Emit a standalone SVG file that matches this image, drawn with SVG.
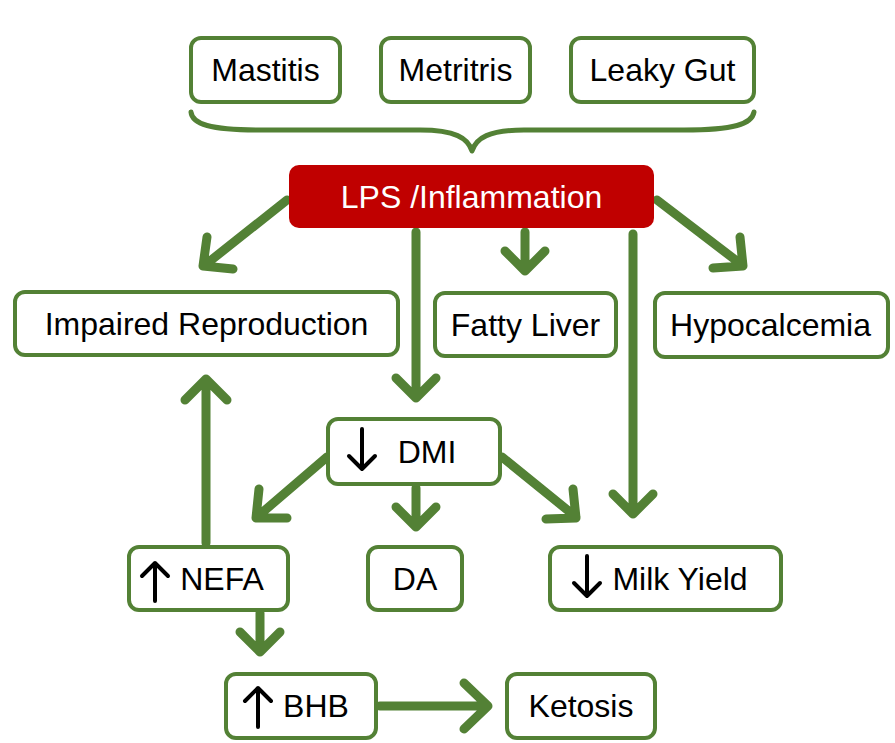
<svg xmlns="http://www.w3.org/2000/svg" width="895" height="743" viewBox="0 0 895 743">
<style>
.box{fill:#fff;stroke:#538135;stroke-width:4}
.t{font-family:"Liberation Sans",Arial,sans-serif;font-size:32px;fill:#000;text-anchor:middle}
.c{fill:none;stroke:#538135;stroke-width:9;stroke-linecap:round;stroke-linejoin:round}
.k{fill:none;stroke:#000;stroke-width:4;stroke-linecap:round;stroke-linejoin:round}
</style>
<rect width="895" height="743" fill="#fff"/>
<g id="connectors">
<path class="c" style="stroke-width:5" d="M191,112 C192,124 210,130 260,130 L420,130 C455,130 468,138 472,151 C476,138 489,130 524,130 L684,130 C734,130 752,124 754,112"/>
<path class="c" d="M287,200 L205,265 M207,237 L203,266 L233,269"/>
<path class="c" d="M416,232 L416,398 M396,378 L416,398 L436,378"/>
<path class="c" d="M525,232 L525,270 M505,251 L525,271 L545,251"/>
<path class="c" d="M633,234 L633,514 M613,494 L633,514 L653,494"/>
<path class="c" d="M657,200 L742,265 M740,237 L743,266 L713,268"/>
<path class="c" d="M206,543 L206,380 M185,400 L206,379 L227,400"/>
<path class="c" d="M327,457 L257,517 M259,489 L256,518 L287,518"/>
<path class="c" d="M416,488 L416,526 M396,507 L416,527 L436,507"/>
<path class="c" d="M502,457 L576,517 M573,489 L576,518 L546,519"/>
<path class="c" d="M260,613 L260,652 M240,632 L260,652 L280,632"/>
<path class="c" d="M380,706 L487,706 M464,683 L488,706 L464,729"/>
</g>
<g id="mastitis"><rect class="box" x="191" y="38" width="149" height="64" rx="10"/><text class="t" x="265.5" y="81">Mastitis</text></g>
<g id="metritris"><rect class="box" x="381" y="38" width="149" height="64" rx="10"/><text class="t" x="455.5" y="81">Metritris</text></g>
<g id="leaky-gut"><rect class="box" x="571" y="38" width="183" height="64" rx="10"/><text class="t" x="662.5" y="81">Leaky Gut</text></g>
<g id="lps"><rect x="289" y="165" width="365" height="63" rx="10" fill="#C00000"/><text class="t" x="471.5" y="208" style="fill:#fff">LPS /Inflammation</text></g>
<g id="impaired-reproduction"><rect class="box" x="15" y="292" width="383" height="63" rx="10"/><text class="t" x="206.5" y="335">Impaired Reproduction</text></g>
<g id="fatty-liver"><rect class="box" x="435" y="293" width="181" height="63" rx="10"/><text class="t" x="525.5" y="336">Fatty Liver</text></g>
<g id="hypocalcemia"><rect class="box" x="655" y="293" width="233" height="64" rx="10"/><text class="t" x="770.5" y="336">Hypocalcemia</text></g>
<g id="dmi"><rect class="box" x="328" y="419" width="172" height="65" rx="10"/><path class="k" d="M362,429 L362,469 M349,456 L362,469 L375,456"/><text class="t" x="427" y="463">DMI</text></g>
<g id="nefa"><rect class="box" x="129" y="547" width="159" height="63" rx="10"/><path class="k" d="M155,601 L155,563 M142,576 L155,563 L168,576"/><text class="t" x="222" y="590">NEFA</text></g>
<g id="da"><rect class="box" x="368" y="547" width="94" height="63" rx="10"/><text class="t" x="415" y="590">DA</text></g>
<g id="milk-yield"><rect class="box" x="550" y="547" width="231" height="63" rx="10"/><path class="k" d="M587,556 L587,596 M574,583 L587,596 L600,583"/><text class="t" x="680" y="590">Milk Yield</text></g>
<g id="bhb"><rect class="box" x="226" y="674" width="150" height="64" rx="10"/><path class="k" d="M258,727 L258,688 M245,701 L258,688 L271,701"/><text class="t" x="316" y="717">BHB</text></g>
<g id="ketosis"><rect class="box" x="507" y="674" width="148" height="64" rx="10"/><text class="t" x="581" y="717">Ketosis</text></g>
</svg>
